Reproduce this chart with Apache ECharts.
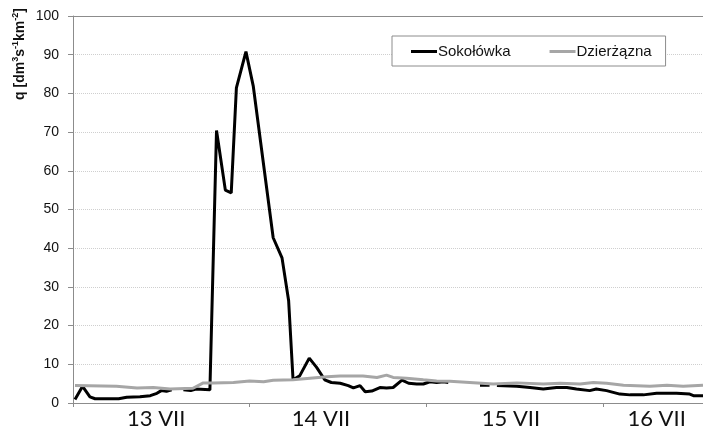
<!DOCTYPE html>
<html>
<head>
<meta charset="utf-8">
<script src="https://cdn.jsdelivr.net/npm/echarts@6/dist/echarts.min.js"></script>
<style>
html,body{margin:0;padding:0;background:#fff;}
#chart{width:703px;height:430px;}
</style>
</head>
<body>
<div id="chart"></div>
<script>
// Sokołówka: hours since start of 13 VII, specific runoff q
var sokHours = [0.27, 1.3, 2.3, 3.0, 6.2, 7.3, 9.1, 10.5, 11.4, 12.0, 12.7, 13.4, 14.2, 15.0, 16.0, 16.7, 18.6, 19.5, 20.7, 21.5, 22.2, 23.5, 24.5, 27.2, 28.4, 29.3, 29.9, 30.8, 32.1, 33.1, 34.2, 35.1, 36.3, 37.4, 38.1, 39.0, 39.7, 40.6, 41.7, 42.6, 43.5, 44.7, 45.6, 46.7, 47.6, 48.5, 49.4, 50.3, 51.0, 52.5, 55.3, 56.6, 57.1, 57.6, 60.3, 62.1, 63.9, 65.7, 67.1, 68.4, 70.2, 71.1, 72.5, 74.3, 75.7, 77.5, 79.3, 82.0, 83.8, 84.3, 85.6];
var sokValues = [0.9, 4.3, 1.6, 1.1, 1.1, 1.5, 1.6, 1.9, 2.5, 3.2, 3.0, 3.4, null, 3.4, 3.2, 3.6, 3.4, 70.4, 55.0, 54.3, 81.4, 90.8, 81.8, 42.7, 37.5, 26.4, 6.0, 7.0, 11.6, 9.2, 6.0, 5.3, 5.1, 4.5, 3.9, 4.5, 2.9, 3.1, 4.0, 3.9, 4.0, 5.9, 5.1, 4.9, 4.9, 5.5, 5.3, 5.5, 5.3, null, 4.6, 4.6, null, 4.5, 4.3, 4.0, 3.6, 4.0, 4.0, 3.6, 3.2, 3.6, 3.2, 2.3, 2.1, 2.1, 2.5, 2.5, 2.3, 1.9, 1.9];

// Dzierżązna
var dzHours = [0.27, 5.9, 8.7, 10.9, 13.2, 16.3, 17.0, 17.7, 19.1, 21.8, 24.0, 25.9, 27.2, 29.9, 32.2, 34.5, 36.3, 39.4, 41.3, 42.6, 43.5, 45.3, 47.6, 49.4, 51.2, 53.9, 57.1, 60.3, 63.9, 66.2, 68.9, 70.7, 72.5, 74.8, 78.4, 80.7, 82.9, 85.6];
var dzValues = [4.5, 4.3, 3.9, 4.0, 3.6, 3.8, 4.5, 5.2, 5.2, 5.3, 5.7, 5.5, 5.9, 6.0, 6.4, 6.8, 7.0, 7.0, 6.6, 7.2, 6.6, 6.4, 6.0, 5.7, 5.6, 5.3, 4.9, 5.2, 4.9, 5.1, 4.9, 5.3, 5.1, 4.6, 4.3, 4.6, 4.3, 4.6];

var seriesNames = ['Sokołówka', 'Dzierżązna'];
var dayLabels = ['13 VII', '14 VII', '15 VII', '16 VII'];
var dayLabelHours = [11.3, 33.7, 59.5, 79.3];
var dayTickHours = [0, 24, 48, 72];
var yTicks = [0, 10, 20, 30, 40, 50, 60, 70, 80, 90, 100];

function pairs(xs, ys) {
  return xs.map(function (x, i) { return [x, ys[i] === null ? '-' : ys[i]]; });
}

var chart = echarts.init(document.getElementById('chart'), null, {renderer: 'canvas'});
var font = '"Liberation Sans", Arial, sans-serif';

chart.setOption({
  animation: false,
  backgroundColor: '#ffffff',
  grid: {left: 73, right: 0, top: 16, bottom: 26, containLabel: false},
  legend: {
    data: seriesNames,
    left: 392, top: 36,
    orient: 'horizontal',
    icon: 'rect',
    itemWidth: 26, itemHeight: 3,
    itemGap: 39,
    padding: [8, 14, 7, 19],
    borderColor: '#8c8c8c', borderWidth: 1,
    backgroundColor: '#fff',
    textStyle: {fontFamily: font, fontSize: 15, color: '#111', padding: [0, 0, 0, -4]}
  },
  xAxis: [{
    type: 'value',
    min: 0, max: 85.6,
    axisLine: {show: true, lineStyle: {color: '#8c8c8c', width: 1}},
    axisTick: {show: true, length: 4, customValues: dayTickHours, lineStyle: {color: '#8c8c8c'}},
    splitLine: {show: false},
    axisLabel: {
      customValues: dayLabelHours,
      margin: 5,
      fontFamily: 'Lato, "Open Sans", sans-serif',
      fontWeight: 'normal',
      fontSize: 22,
      color: '#111',
      formatter: function (v) {
        var idx = dayLabelHours.indexOf(v);
        return idx >= 0 ? dayLabels[idx] : '';
      }
    }
  }, {
    type: 'value', position: 'top', min: 0, max: 85.6,
    axisLine: {show: true, lineStyle: {color: '#8c8c8c', width: 1}},
    axisTick: {show: false}, axisLabel: {show: false}, splitLine: {show: false}
  }],
  yAxis: {
    type: 'value',
    min: 0, max: 100, interval: 10,
    axisLine: {show: true, lineStyle: {color: '#8c8c8c', width: 1}},
    axisTick: {show: true, length: 5, lineStyle: {color: '#8c8c8c'}},
    splitLine: {show: true, lineStyle: {color: '#cfcfcf', type: 'dotted', width: 1}},
    axisLabel: {
      margin: 14, fontFamily: font, fontSize: 14, color: '#111',
      customValues: yTicks
    }
  },
  graphic: [{
    type: 'text',
    x: 19, y: 54,
    rotation: Math.PI / 2,
    style: {
      text: '{n|q [dm}{s|3}{n|s}{s|-1}{n|km}{s|-2}{n|]}',
      align: 'center', verticalAlign: 'middle',
      fill: '#111',
      rich: {
        n: {fontFamily: font, fontWeight: 'bold', fontSize: 14, lineHeight: 16, verticalAlign: 'bottom'},
        s: {fontFamily: font, fontWeight: 'bold', fontSize: 9, lineHeight: 16, verticalAlign: 'top'}
      }
    }
  }],
  series: [{
    name: seriesNames[0],
    type: 'line',
    data: pairs(sokHours, sokValues),
    showSymbol: false, symbol: 'none',
    connectNulls: false,
    lineStyle: {color: '#000', width: 3},
    itemStyle: {color: '#000'}
  }, {
    name: seriesNames[1],
    type: 'line',
    data: pairs(dzHours, dzValues),
    showSymbol: false, symbol: 'none',
    lineStyle: {color: '#a6a6a6', width: 3},
    itemStyle: {color: '#a6a6a6'}
  }]
});
</script>
</body>
</html>
